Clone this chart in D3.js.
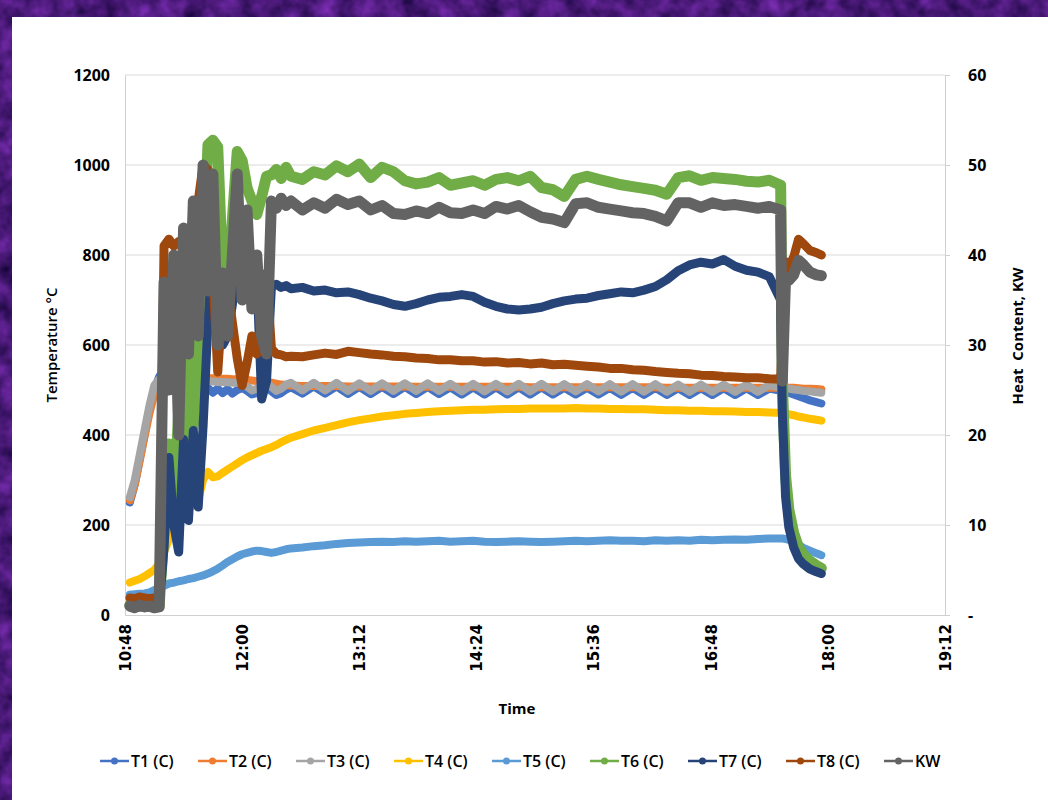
<!DOCTYPE html>
<html lang="en">
<head>
<meta charset="utf-8">
<title>Temperature and heat content</title>
<script src="https://cdn.jsdelivr.net/npm/d3@7"></script>
<style>
  body { margin: 0; background: #4a1a7a; }
  svg text { font-family: "Open Sans", sans-serif; fill: #000; }
</style>
</head>
<body>
<div id="chart"></div>
<script>
// sample times (HH:MM), shared by every series
var times = [
  "10:51","10:54","10:57","11:00","11:03","11:06","11:09","11:12","11:15","11:18","11:21","11:24",
  "11:27","11:30","11:33","11:36","11:39","11:42","11:45","11:48","11:51","11:54","11:57","12:00",
  "12:03","12:06","12:09","12:12","12:15","12:18","12:21","12:24","12:27","12:30",
  "12:37","12:44","12:51","12:58","13:05","13:12","13:19","13:26","13:33","13:40","13:47","13:54",
  "14:01","14:08","14:15","14:22","14:29","14:36","14:43","14:50","14:57","15:04","15:11","15:18",
  "15:25","15:32","15:39","15:46","15:53","16:00","16:07","16:14","16:21","16:28","16:35","16:42",
  "16:49","16:56","17:03","17:10","17:17","17:24","17:31",
  "17:32","17:34","17:36","17:39","17:42","17:45","17:49","17:53","17:56"
];

// temperatures, deg C
var t1 = [250,290,345,400,455,500,530,545,546,540,532,522,512,505,500,496,505,494,503,493,502,492,500,
  505,498,490,493,500,505,497,489,493,501,506,
  492,508,492,508,491,507,491,507,491,507,491,507,491,506,490,506,490,506,490,506,490,506,490,505,
  490,505,490,505,489,505,489,505,489,504,489,504,489,504,489,504,489,503,498,
  500,497,494,490,486,482,477,473,470];
var t2 = [255,290,342,396,448,490,507,512,514,516,518,520,522,524,525,526,526,526,525,525,525,524,524,
  523,522,521,520,519,518,516,514,512,511,510,
  509,509,509,509,508,508,508,508,508,508,507,507,507,507,507,507,507,507,507,507,506,506,506,506,
  506,506,506,506,506,506,506,506,505,505,505,505,505,505,505,505,505,505,505,
  506,506,505,505,504,503,503,502,501];
var t3 = [262,300,355,410,465,510,524,522,521,520,521,522,521,520,520,519,520,519,518,518,517,516,516,
  515,508,499,503,511,516,507,498,503,512,516,
  499,516,499,516,498,515,498,515,498,515,498,515,498,514,497,514,497,514,497,514,497,514,497,513,
  497,513,497,513,496,513,496,513,496,512,496,512,496,512,496,512,496,511,505,
  506,505,503,501,500,498,497,495,494];
var t4 = [72,76,80,86,93,100,115,140,168,192,212,224,236,244,256,300,318,306,308,316,323,330,337,
  344,350,355,360,365,369,373,378,384,389,394,
  402,410,416,422,428,433,437,441,444,447,449,451,453,454,455,456,456,457,458,458,459,459,459,459,
  460,459,459,458,458,457,457,456,455,455,454,454,453,453,452,451,451,450,449,
  449,448,446,444,441,439,436,434,432];
var t5 = [45,46,47,48,50,55,60,65,70,72,75,77,80,82,85,88,92,97,103,110,118,124,130,
  135,138,141,143,142,140,138,140,143,146,148,
  150,153,155,158,160,161,162,163,162,164,163,164,165,163,164,165,163,162,163,164,163,162,163,164,
  165,164,165,166,165,165,164,166,165,166,165,167,166,167,168,167,169,170,170,
  170,169,167,163,156,149,143,137,133];
var t6 = [22,21,20,21,20,21,20,190,380,250,450,330,560,420,600,780,1045,1055,1040,760,700,880,1030,
  1010,950,920,890,930,975,978,990,970,995,975,
  968,985,978,998,985,1002,972,995,985,965,958,962,972,955,960,965,955,968,972,965,975,950,945,930,
  968,975,968,962,956,952,948,944,935,972,976,966,972,970,968,964,962,966,955,
  520,310,235,182,150,133,120,110,104];
var t7 = [18,17,18,19,18,17,18,150,350,200,140,390,210,410,240,420,650,810,660,600,620,690,790,
  800,720,700,760,480,520,730,735,728,732,725,
  728,720,722,716,718,712,704,698,690,686,692,700,706,708,712,708,695,686,680,678,680,684,692,698,
  702,704,710,714,718,716,722,730,745,765,778,784,780,790,775,766,762,752,700,
  450,262,195,150,125,113,102,96,92];
var t8 = [38,36,40,38,36,38,35,820,835,820,830,815,840,880,920,1000,990,760,540,700,735,650,570,
  510,560,620,580,650,760,592,580,578,574,575,
  574,578,582,579,586,583,580,578,575,574,571,570,567,567,565,565,562,563,560,561,558,560,556,557,
  555,553,551,548,548,545,544,541,539,537,536,533,532,530,529,527,527,525,524,
  600,785,775,795,835,825,810,805,800];
// heat content, kW (secondary axis)
var kw = [1.0,0.8,1.1,0.9,1.0,0.8,0.9,37,25,40,20,43,29,46,31,50,36,49,30,38,31,40,49,
  35,45,34,40,31,29,46,45.2,46.3,45.5,46.0,
  45.0,45.8,45.2,46.2,45.6,46.0,45.0,45.5,44.6,44.5,44.9,44.6,45.3,44.7,44.6,45.0,44.6,45.4,45.1,45.5,
  44.8,44.2,44.0,43.6,45.7,45.8,45.3,45.1,44.9,44.7,44.6,44.3,43.8,45.8,45.8,45.3,45.8,45.5,45.6,45.4,
  45.2,45.4,45.0,
  26,37.5,37.2,37.8,39.4,38.9,38.1,37.8,37.7];

var seriesNames = ["T1 (C)", "T2 (C)", "T3 (C)", "T4 (C)", "T5 (C)", "T6 (C)", "T7 (C)", "T8 (C)", "KW"];
var seriesColors = ["#4472C4", "#ED7D31", "#A5A5A5", "#FFC000", "#5B9BD5", "#70AD47", "#264478", "#9E480E", "#636363"];
var tempTicks = [0, 200, 400, 600, 800, 1000, 1200];
var kwTicks = [0, 10, 20, 30, 40, 50, 60];
var timeTicks = ["10:48", "12:00", "13:12", "14:24", "15:36", "16:48", "18:00", "19:12"];

var width = 1048, height = 800;
var plotL = 125, plotR = 945, plotT = 75, plotB = 615;

var parseTime = d3.timeParse("%H:%M");

var svg = d3.select("#chart").append("svg")
    .attr("width", width)
    .attr("height", height);

// purple textured frame
var defs = svg.append("defs");
var tex = defs.append("filter").attr("id", "tex")
    .attr("x", 0).attr("y", 0).attr("width", 1).attr("height", 1)
    .attr("color-interpolation-filters", "sRGB");
tex.append("feTurbulence").attr("type", "fractalNoise").attr("baseFrequency", "0.05").attr("numOctaves", 3).attr("seed", 7);
tex.append("feColorMatrix").attr("type", "matrix")
    .attr("values", "0.5 0 0 0 0.04  0.2 0 0 0 0.0  0.6 0 0 0 0.17  0 0 0 0 1");
svg.append("rect").attr("width", width).attr("height", height).attr("filter", "url(#tex)");

svg.append("rect")
    .attr("x", 12).attr("y", 17)
    .attr("width", width - 12).attr("height", height - 17)
    .attr("fill", "#fff");

var x = d3.scaleTime()
    .domain([parseTime("10:48"), parseTime("19:12")])
    .range([plotL, plotR]);
var yTemp = d3.scaleLinear().domain([0, 1200]).range([plotB, plotT]);
var yKw = d3.scaleLinear().domain([0, 60]).range([plotB, plotT]);

// gridlines
svg.append("g").selectAll("line")
    .data(tempTicks.slice(1))
    .enter().append("line")
    .attr("x1", plotL).attr("x2", plotR)
    .attr("y1", function(d) { return yTemp(d); })
    .attr("y2", function(d) { return yTemp(d); })
    .attr("stroke", "#d9d9d9").attr("stroke-width", 1);

// left axis
var gLeft = svg.append("g")
    .attr("transform", "translate(" + plotL + ",0)")
    .call(d3.axisLeft(yTemp).tickValues(tempTicks).tickSize(0).tickPadding(15)
        .tickFormat(function(d) { return d; }));
gLeft.select(".domain").attr("stroke", "#d0d0d0");
gLeft.selectAll("text").style("font-size", "16px").style("font-weight", "700");

// right axis
var gRight = svg.append("g")
    .attr("transform", "translate(" + plotR + ",0)")
    .call(d3.axisRight(yKw).tickValues(kwTicks).tickSize(5).tickPadding(18)
        .tickFormat(function(d) { return d === 0 ? "-" : d; }));
gRight.select(".domain").attr("stroke", "#d0d0d0");
gRight.selectAll("line").attr("stroke", "#d0d0d0");
gRight.selectAll("text").style("font-size", "16px").style("font-weight", "700");

// bottom axis
var gBottom = svg.append("g")
    .attr("transform", "translate(0," + plotB + ")")
    .call(d3.axisBottom(x).tickValues(timeTicks.map(parseTime)).tickSize(0)
        .tickFormat(d3.timeFormat("%H:%M")));
gBottom.select(".domain").attr("stroke", "#d0d0d0");
gBottom.selectAll("text")
    .attr("transform", "rotate(-90)")
    .attr("x", -9).attr("y", 0).attr("dy", "0.36em")
    .style("text-anchor", "end")
    .style("font-family", "'DejaVu Sans', sans-serif")
    .style("font-size", "15px").style("font-weight", "700");

// axis titles
svg.append("text")
    .attr("transform", "translate(57,345) rotate(-90)")
    .attr("text-anchor", "middle")
    .style("font-size", "15px").style("font-weight", "600")
    .text("Temperature °C");
svg.append("text")
    .attr("transform", "translate(1023,336) rotate(-90)")
    .attr("text-anchor", "middle")
    .style("font-size", "15px").style("font-weight", "700")
    .style("white-space", "pre")
    .text("Heat  Content, KW");
svg.append("text")
    .attr("x", 517).attr("y", 714)
    .attr("text-anchor", "middle")
    .style("font-size", "15px").style("font-weight", "700")
    .text("Time");

// series - thick strokes stand in for the dense marker runs of the original
var allValues = [t1, t2, t3, t4, t5, t6, t7, t8, kw];
var widths = [8, 8, 8, 8, 8, 11, 9, 9, 11];

allValues.forEach(function(vals, i) {
    var yScale = i === 8 ? yKw : yTemp;
    var pts = vals.map(function(v, j) { return { t: parseTime(times[j]), v: v }; });
    var line = d3.line()
        .x(function(d) { return x(d.t); })
        .y(function(d) { return yScale(d.v); });
    svg.append("path")
        .datum(pts)
        .attr("d", line)
        .attr("fill", "none")
        .attr("stroke", seriesColors[i])
        .attr("stroke-width", widths[i])
        .attr("stroke-linejoin", "round")
        .attr("stroke-linecap", "round");
});

// legend
var legend = svg.append("g").attr("transform", "translate(100,761)");
var item = legend.selectAll("g")
    .data(seriesNames)
    .enter().append("g")
    .attr("transform", function(d, i) { return "translate(" + (i * 98) + ",0)"; });
item.append("line")
    .attr("x1", 0).attr("x2", 29)
    .attr("stroke", function(d, i) { return seriesColors[i]; })
    .attr("stroke-width", 2.5);
item.append("circle")
    .attr("cx", 14.5).attr("r", 3.5)
    .attr("fill", function(d, i) { return seriesColors[i]; });
item.append("text")
    .attr("x", 31).attr("dy", "0.36em")
    .style("font-size", "16px").style("font-weight", "600")
    .text(function(d) { return d; });
</script>
</body>
</html>
